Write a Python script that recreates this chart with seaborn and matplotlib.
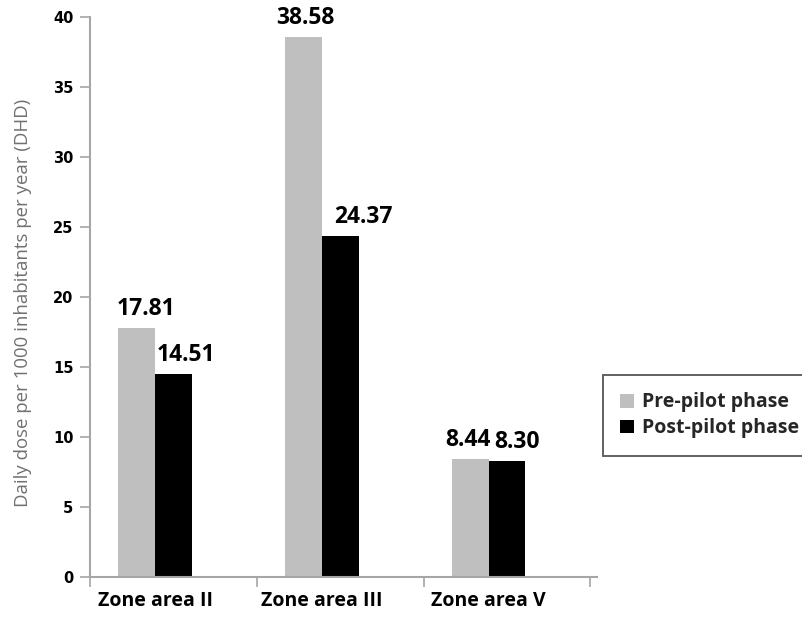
import matplotlib
matplotlib.use("Agg")
import matplotlib.pyplot as plt
import seaborn as sns
import pandas as pd

# Values per zone (DHD)
zones = ["Zone area II", "Zone area III", "Zone area V"]
pre_pilot = [17.81, 38.58, 8.44]
post_pilot = [14.51, 24.37, 8.30]
phases = ["Pre-pilot phase", "Post-pilot phase"]
y_ticks = [0, 5, 10, 15, 20, 25, 30, 35, 40]

df = pd.DataFrame({
    "zone": zones * 2,
    "phase": [phases[0]] * len(zones) + [phases[1]] * len(zones),
    "dhd": pre_pilot + post_pilot,
})

sns.set_theme(style="white")
plt.rcParams["font.family"] = ["Open Sans", "DejaVu Sans"]

fig = plt.figure(figsize=(8.03, 6.21), dpi=100)
ax = fig.add_axes([0.1121, 0.0709, 0.6314, 0.9017])

sns.barplot(
    data=df, x="zone", y="dhd", hue="phase",
    order=zones, hue_order=phases,
    palette=["#bfbfbf", "#000000"], width=0.44, saturation=1,
    errorbar=None, linewidth=0, ax=ax,
)

ax.set_xlim(-0.39, 2.65)
ax.set_ylim(0, 40)

# value labels above each bar (horizontal nudges in points)
nudges = [[7, 1, -2], [9, 17, 7]]
for cont, vals, dxs in zip(ax.containers, [pre_pilot, post_pilot], nudges):
    for bar, v, dx in zip(cont, vals, dxs):
        ax.annotate(f"{v:.2f}", (bar.get_x() + bar.get_width() / 2, bar.get_height()),
                    xytext=(dx, 5), textcoords="offset points",
                    ha="center", va="bottom", fontsize=16.5, fontweight="bold",
                    color="black", annotation_clip=False)

# axes styling
for side in ["top", "right"]:
    ax.spines[side].set_visible(False)
for side in ["left", "bottom"]:
    ax.spines[side].set_color("#a6a6a6")
    ax.spines[side].set_linewidth(1.5)

ax.set_yticks(y_ticks)
ax.set_yticklabels([str(t) for t in y_ticks], fontsize=10.5, fontweight="bold",
                   family="DejaVu Sans", color="black")
ax.tick_params(axis="y", which="major", left=True, length=7, width=1.2,
               color="#a6a6a6", pad=5, direction="out")

ax.set_xticks(range(len(zones)))
ax.set_xticklabels(zones, fontsize=14, fontweight="bold", color="black")
ax.tick_params(axis="x", which="major", bottom=False, length=0, pad=10)
ax.set_xticks([-0.39, 0.61, 1.61, 2.61], minor=True)
ax.tick_params(axis="x", which="minor", bottom=True, length=7, width=1.2,
               color="#a6a6a6", direction="out")

ax.set_xlabel("")
ax.set_ylabel("Daily dose per 1000 inhabitants per year (DHD)",
              fontsize=13.4, color="#707070")
ax.yaxis.set_label_coords(-0.114, 0.49)

handles, labels = ax.get_legend_handles_labels()
ax.legend(handles, labels, loc="upper left",
          bbox_to_anchor=(603 / 803, 1 - 375 / 621), bbox_transform=fig.transFigure,
          frameon=True, fancybox=False, edgecolor="#555555", framealpha=1,
          prop={"weight": "bold", "size": 14, "family": "Open Sans"},
          handlelength=0.7, handleheight=0.7, handletextpad=0.4,
          labelspacing=0.3, borderpad=0.9, borderaxespad=0)
ax.get_legend().get_frame().set_linewidth(1.3)

fig.savefig("out.png", dpi=100)
